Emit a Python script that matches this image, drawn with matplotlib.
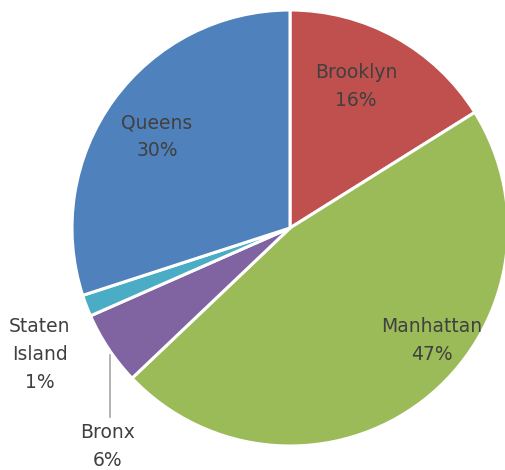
import matplotlib.pyplot as plt

boroughs = ["Brooklyn", "Manhattan", "Bronx", "Staten Island", "Queens"]
shares = [16.1, 46.8, 5.5, 1.6, 30.0]
pct_labels = ["16%", "47%", "6%", "1%", "30%"]
colors = ["#C0504D", "#9BBB59", "#8064A2", "#4BACC6", "#4F81BD"]

# label text and where it sits (pixel coords, y from top)
label_text = ["Brooklyn\n16%", "Manhattan\n47%", "Bronx\n6%", "Staten\nIsland\n1%", "Queens\n30%"]
label_pos = [(356, 87), (432, 340), (108, 446), (40, 355), (157, 137)]

W, H = 506, 470
CX, CY, R = 290, 228, 218

fig = plt.figure(figsize=(W / 100, H / 100), dpi=100)
ax = fig.add_axes([0, 0, 1, 1])

ax.pie(shares, colors=colors, startangle=90, counterclock=False,
       center=(CX, H - CY), radius=R, frame=True,
       wedgeprops=dict(edgecolor="white", linewidth=2.2))
ax.set_xlim(0, W)
ax.set_ylim(0, H)
ax.set_aspect("equal")
ax.axis("off")

for txt, (x, y) in zip(label_text, label_pos):
    ax.text(x, H - y, txt, ha="center", va="center", fontsize=13.5,
            color="#404040", linespacing=1.6, family="DejaVu Sans")

# leader line for Bronx
ax.plot([110, 110], [H - 417, H - 355], color="#A6A6A6", linewidth=1.2)

fig.savefig("out.png", dpi=100)
